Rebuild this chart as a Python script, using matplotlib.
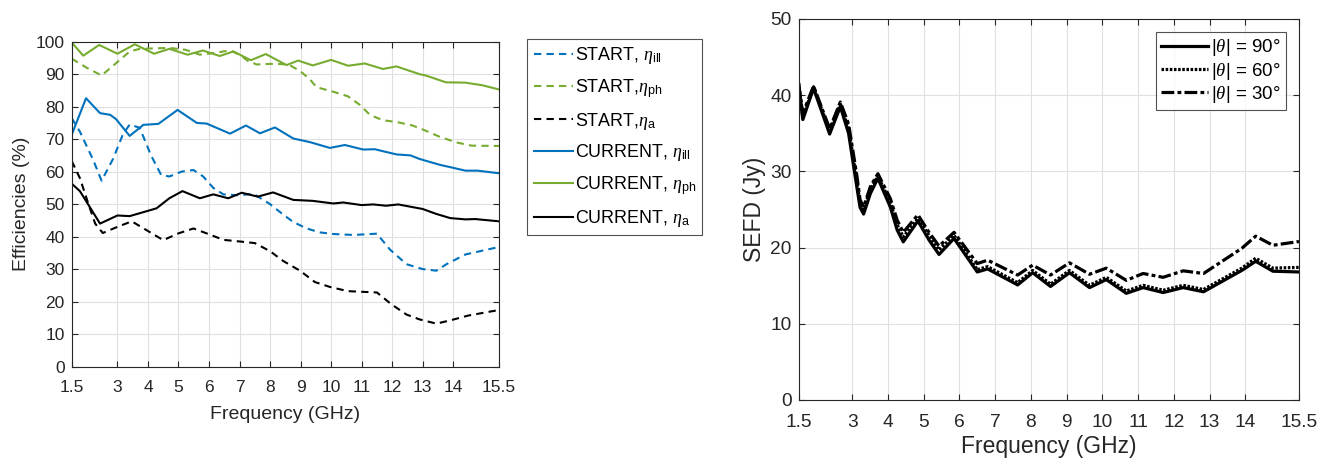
import numpy as np
import matplotlib.pyplot as plt

plt.rcParams['font.family'] = ['Liberation Sans', 'DejaVu Sans']
plt.rcParams['mathtext.fontset'] = 'custom'
plt.rcParams['mathtext.rm'] = 'Liberation Sans'
plt.rcParams['mathtext.it'] = 'Liberation Serif:italic'
plt.rcParams['mathtext.bf'] = 'Liberation Sans:bold'

BLUE = '#0072BD'
GREEN = '#77AC30'
AX = '#262626'

# ---- left panel: efficiencies (%) ----
f_cur_ph = [1.5, 1.88, 2.4, 3.0, 3.57, 4.2, 4.7, 5.3, 5.8, 6.35, 6.8, 7.37, 7.86, 8.54, 8.92,
            9.4, 10.0, 10.56, 11.1, 11.7, 12.14, 12.9, 13.1, 13.76, 14.4, 14.95, 15.5]
cur_ph = [99.8, 95.7, 99.0, 96.3, 99.2, 96.3, 97.8, 96.0, 97.3, 95.6, 97.0, 94.3, 96.2, 92.8, 94.2,
          92.7, 94.4, 92.6, 93.3, 91.6, 92.4, 90.0, 89.6, 87.5, 87.4, 86.6, 85.3]

f_cur_ill = [1.5, 1.97, 2.43, 2.76, 2.95, 3.4, 3.85, 4.34, 4.97, 5.6, 5.92, 6.69, 7.21, 7.67, 8.16,
             8.76, 9.3, 9.96, 10.45, 11.05, 11.43, 12.14, 12.6, 12.9, 13.56, 13.94, 14.4, 14.8, 15.5]
cur_ill = [71.3, 82.6, 78.0, 77.5, 76.2, 71.0, 74.4, 74.7, 79.0, 75.0, 74.8, 71.7, 74.2, 71.8, 73.6,
           70.2, 69.1, 67.3, 68.2, 66.8, 66.9, 65.3, 65.0, 63.9, 62.1, 61.3, 60.3, 60.3, 59.5]

f_cur_a = [1.5, 1.77, 2.43, 3.0, 3.4, 3.95, 4.28, 4.7, 5.13, 5.7, 6.14, 6.63, 7.07, 7.6, 8.1,
           8.76, 9.4, 10.07, 10.4, 11.0, 11.38, 11.8, 12.2, 13.0, 13.44, 13.9, 14.4, 14.72, 15.5]
cur_a = [56.3, 54.0, 44.0, 46.5, 46.3, 47.8, 48.7, 51.8, 54.0, 51.8, 53.0, 51.8, 53.5, 52.3, 53.6,
         51.3, 51.0, 50.2, 50.5, 49.7, 49.9, 49.5, 49.9, 48.5, 47.0, 45.7, 45.3, 45.4, 44.7]

f_st_ph = [1.5, 1.99, 2.48, 2.97, 3.4, 3.73, 4.7, 5.24, 5.7, 6.14, 6.69, 7.0, 7.29, 7.56, 8.1, 8.6,
           8.98, 9.3, 9.52, 10.07, 10.55, 10.95, 11.27, 11.7, 12.14, 12.67, 13.1, 13.54, 14.1, 14.6, 15.5]
st_ph = [94.8, 92.0, 89.6, 93.5, 97.0, 97.8, 98.1, 97.5, 96.0, 96.5, 97.3, 96.0, 94.0, 93.0, 93.2, 93.0,
         91.0, 88.5, 86.0, 84.6, 83.2, 80.5, 77.5, 75.8, 75.3, 74.2, 72.6, 70.8, 69.0, 68.0, 67.9]

f_st_ill = [1.5, 1.77, 2.21, 2.48, 2.86, 3.18, 3.4, 3.73, 4.1, 4.43, 4.7, 5.1, 5.49, 5.81, 6.14, 6.47,
            7.0, 7.45, 8.0, 8.4, 8.76, 9.2, 9.63, 10.07, 10.73, 11.5, 11.93, 12.47, 13.0, 13.45, 13.78, 14.4, 15.5]
st_ill = [76.5, 72.3, 63.5, 57.2, 64.0, 71.5, 74.5, 73.5, 65.0, 59.0, 58.5, 60.0, 60.5, 58.5, 55.0, 53.0,
          52.7, 53.2, 50.0, 47.0, 44.5, 42.5, 41.3, 40.8, 40.5, 40.9, 36.0, 31.5, 30.0, 29.5, 31.5, 34.5, 36.8]

f_st_a = [1.5, 1.77, 2.05, 2.27, 2.52, 3.0, 3.47, 3.95, 4.5, 5.0, 5.49, 5.92, 6.47, 7.0, 7.5, 8.0,
          8.43, 8.98, 9.47, 9.96, 10.55, 11.5, 11.97, 12.47, 12.9, 13.45, 13.9, 14.5, 15.5]
st_a = [63.3, 58.0, 50.0, 44.0, 41.1, 43.0, 44.7, 42.0, 38.9, 41.0, 42.5, 41.0, 39.0, 38.5, 38.0, 35.5,
        32.5, 29.5, 26.0, 24.5, 23.2, 22.8, 19.2, 16.0, 14.5, 13.2, 14.2, 15.7, 17.4]

# ---- right panel: SEFD (Jy) ----
f_sefd = [1.5, 1.62, 1.92, 2.37, 2.67, 2.9, 3.13, 3.22, 3.32, 3.51, 3.72, 4.07, 4.26, 4.43, 4.84, 5.15,
          5.43, 5.85, 6.5, 6.79, 7.63, 8.05, 8.55, 9.08, 9.64, 10.11, 10.67, 11.14, 11.7, 12.26, 12.83,
          13.9, 14.29, 14.77, 15.5]
sefd_90 = [41.5, 36.8, 40.9, 34.9, 38.5, 35.0, 28.0, 25.3, 24.4, 27.1, 29.1, 25.3, 22.3, 20.75, 23.5, 21.0,
           19.1, 21.2, 16.8, 17.2, 15.1, 16.7, 14.9, 16.7, 14.75, 15.8, 14.0, 14.75, 14.1, 14.75, 14.2,
           17.0, 18.2, 16.9, 16.8]
sefd_60 = [41.6, 37.1, 41.1, 35.3, 38.8, 35.6, 28.8, 25.8, 25.0, 27.6, 29.4, 25.9, 23.0, 21.4, 23.8, 21.6,
           19.7, 21.6, 17.1, 17.5, 15.4, 17.0, 15.2, 17.0, 15.05, 16.1, 14.3, 15.05, 14.4, 15.05, 14.5,
           17.3, 18.6, 17.3, 17.4]
sefd_30 = [41.6, 37.6, 41.2, 35.6, 39.1, 36.2, 29.5, 26.3, 25.3, 28.0, 29.7, 26.4, 23.6, 22.0, 24.3, 22.0,
           20.2, 22.0, 17.9, 18.35, 16.4, 17.7, 16.4, 18.0, 16.5, 17.3, 15.7, 16.6, 16.1, 16.95, 16.6,
           19.9, 21.5, 20.3, 20.8]

xticks = [1.5, 3, 4, 5, 6, 7, 8, 9, 10, 11, 12, 13, 14, 15.5]
xticklabels = ['1.5', '3', '4', '5', '6', '7', '8', '9', '10', '11', '12', '13', '14', '15.5']


def style_axes(ax, fs, xpad, ypad):
    ax.set_xlim(1.5, 15.5)
    ax.set_xticks(xticks)
    ax.set_xticklabels(xticklabels)
    ax.grid(True, color='#e0e0e0', linewidth=0.8)
    ax.set_axisbelow(True)
    ax.tick_params(direction='in', top=True, right=True, labelsize=fs, colors=AX,
                   labelcolor=AX, length=4, width=0.8)
    ax.tick_params(axis='x', pad=xpad)
    ax.tick_params(axis='y', pad=ypad)
    for s in ax.spines.values():
        s.set_color(AX)
        s.set_linewidth(0.8)


fig = plt.figure(figsize=(13.32, 4.65), dpi=100)

ax1 = fig.add_axes([0.0538, 0.2118, 0.3208, 0.6985])
dash = (0, (3.5, 2.5))
kw = dict(lw=1.5, solid_joinstyle='round', dash_joinstyle='round')
ax1.plot(f_st_ill, st_ill, color=BLUE, linestyle=dash, label=r'START, $\eta_{\mathrm{ill}}$', **kw)
ax1.plot(f_st_ph, st_ph, color=GREEN, linestyle=dash, label=r'START,$\eta_{\mathrm{ph}}$', **kw)
ax1.plot(f_st_a, st_a, color='k', linestyle=dash, label=r'START,$\eta_{\mathrm{a}}$', **kw)
ax1.plot(f_cur_ill, cur_ill, color=BLUE, label=r'CURRENT, $\eta_{\mathrm{ill}}$', **kw)
ax1.plot(f_cur_ph, cur_ph, color=GREEN, label=r'CURRENT, $\eta_{\mathrm{ph}}$', **kw)
ax1.plot(f_cur_a, cur_a, color='k', label=r'CURRENT, $\eta_{\mathrm{a}}$', **kw)
style_axes(ax1, 12.5, 9.5, 5)
ax1.set_ylim(0, 100)
ax1.set_yticks(np.arange(0, 101, 10))
ax1.set_xlabel('Frequency (GHz)', fontsize=14, color=AX, labelpad=8)
ax1.set_ylabel('Efficiencies (%)', fontsize=14, color=AX, labelpad=4)
leg1 = ax1.legend(loc='upper left', bbox_to_anchor=(0.3959, 0.9161), bbox_transform=fig.transFigure,
                  fontsize=12.9, frameon=True, fancybox=False, edgecolor=AX, handlelength=2.2,
                  handletextpad=0.1, labelspacing=0.6, borderpad=0.35, borderaxespad=0)
leg1.get_frame().set_linewidth(0.8)

ax2 = fig.add_axes([0.5995, 0.1398, 0.3757, 0.8194])
kw2 = dict(color='k', lw=2.3, solid_joinstyle='round', dash_joinstyle='round')
ax2.plot(f_sefd, sefd_90, linestyle='-', label='|$\\theta$| = 90°', **kw2)
ax2.plot(f_sefd, sefd_60, linestyle=(0, (0.8, 0.5)), label='|$\\theta$| = 60°', **kw2)
ax2.plot(f_sefd, sefd_30, linestyle=(0, (4, 1, 1.2, 1)), label='|$\\theta$| = 30°', **kw2)
style_axes(ax2, 13.8, 10, 5)
ax2.set_ylim(0, 50)
ax2.set_yticks(np.arange(0, 51, 10))
ax2.set_xlabel('Frequency (GHz)', fontsize=16.5, color=AX, labelpad=3)
ax2.set_ylabel('SEFD (Jy)', fontsize=16.5, color=AX, labelpad=3)
leg2 = ax2.legend(loc='upper right', bbox_to_anchor=(0.9655, 0.9318), bbox_transform=fig.transFigure,
                  fontsize=13.5, frameon=True, fancybox=False, edgecolor=AX, handlelength=2.5,
                  handletextpad=0.15, labelspacing=0.12, borderpad=0.3, borderaxespad=0)
leg2.get_frame().set_linewidth(0.8)

fig.savefig('out.png', dpi=100)
